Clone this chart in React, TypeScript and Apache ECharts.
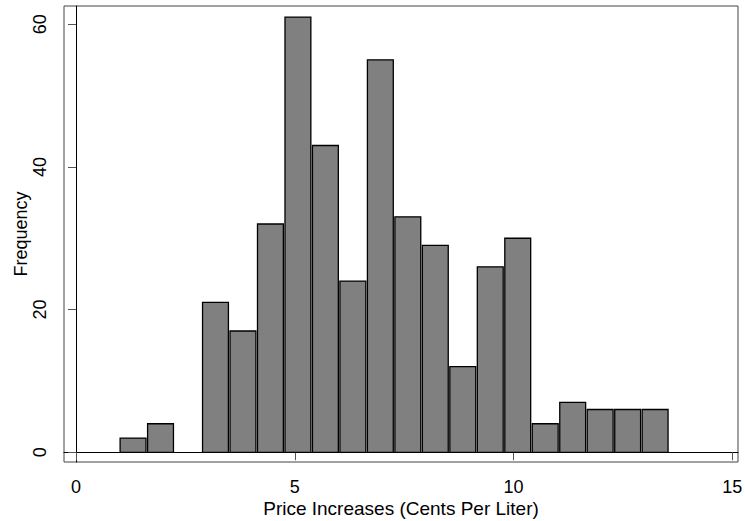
import React, { useEffect, useRef } from "react";
import * as echarts from "echarts";

// Histogram data (Stata-style, 20 bins)
const binStart = 0.99;
const binWidth = 0.628;
const counts = [2, 4, 0, 21, 17, 32, 61, 43, 24, 55, 33, 29, 12, 26, 30, 4, 7, 6, 6, 6];
const xTicks = [0, 5, 10, 15];
const yTicks = [0, 20, 40, 60];
const xTitle = "Price Increases (Cents Per Liter)";
const yTitle = "Frequency";

const FONT = "'Liberation Sans', Arial, Helvetica, sans-serif";

export default function App() {
  const ref = useRef<HTMLDivElement>(null);

  useEffect(() => {
    document.body.style.margin = "0";
    if (!ref.current) return;
    const chart = echarts.init(ref.current, null, { renderer: "svg" });

    const data = counts
      .map((c, i) => [binStart + i * binWidth, binStart + (i + 1) * binWidth, c])
      .filter((d) => d[2] > 0);

    chart.setOption({
      animation: false,
      backgroundColor: "#fff",
      grid: {
        left: 64,
        right: 7,
        top: 6,
        bottom: 59,
        outerBoundsMode: "none",
        containLabel: false,
        show: true,
        borderColor: "#444",
        borderWidth: 1,
        backgroundColor: "#fff",
      },
      xAxis: {
        type: "value",
        min: -0.274,
        max: 15.13,
        offset: 2,
        name: xTitle,
        nameLocation: "middle",
        nameGap: 35,
        nameMoveOverlap: false,
        nameTextStyle: { fontFamily: FONT, fontSize: 19, color: "#000" },
        axisLine: { show: true, lineStyle: { color: "#000", width: 1 } },
        axisTick: {
          show: true,
          length: 8,
          customValues: xTicks,
          lineStyle: { color: "#555", width: 1 },
        },
        axisLabel: {
          customValues: xTicks,
          margin: 14,
          fontFamily: FONT,
          fontSize: 18,
          color: "#000",
        },
        splitLine: { show: false },
      },
      yAxis: {
        type: "value",
        min: -1.36,
        max: 62.55,
        name: yTitle,
        nameLocation: "middle",
        nameGap: 34,
        nameMoveOverlap: false,
        nameTextStyle: { fontFamily: FONT, fontSize: 18, color: "#000" },
        axisLine: { show: true, lineStyle: { color: "#000", width: 1 } },
        axisTick: {
          show: true,
          length: 8,
          customValues: yTicks,
          lineStyle: { color: "#555", width: 1 },
        },
        axisLabel: {
          customValues: yTicks,
          rotate: 90,
          margin: 15,
          fontFamily: FONT,
          fontSize: 18,
          color: "#000",
        },
        splitLine: { show: false },
      },
      series: [
        {
          type: "custom",
          data,
          encode: { x: [0, 1], y: 2 },
          renderItem: (params: any, api: any) => {
            const x0 = api.value(0);
            const x1 = api.value(1);
            const v = api.value(2);
            const pTop = api.coord([x0, v]);
            const pBot = api.coord([x1, 0]);
            return {
              type: "rect",
              shape: {
                x: pTop[0] + 0.8,
                y: pTop[1],
                width: pBot[0] - pTop[0] - 1.6,
                height: pBot[1] - pTop[1],
              },
              style: { fill: "#808080", stroke: "#000", lineWidth: 1.3 },
            };
          },
        },
      ],
    });

    return () => chart.dispose();
  }, []);

  return <div ref={ref} style={{ width: 745, height: 521 }} />;
}
